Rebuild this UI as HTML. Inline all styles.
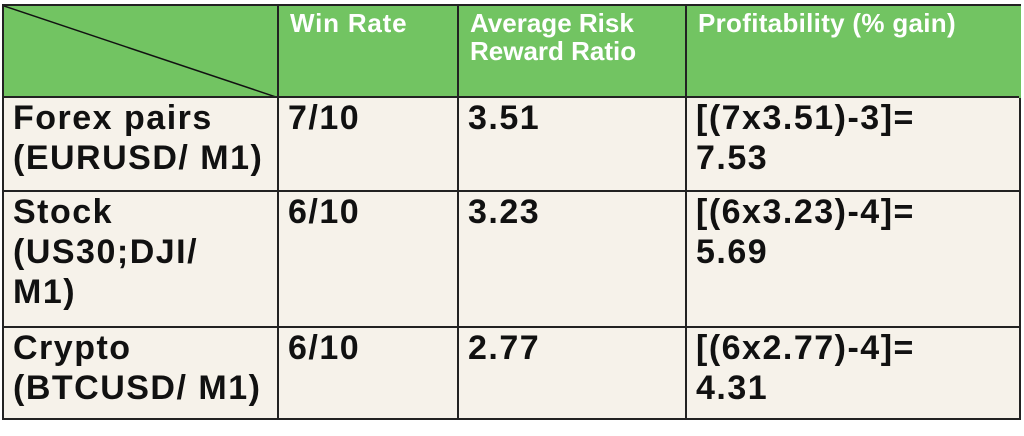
<!DOCTYPE html>
<html><head><meta charset="utf-8"><style>
html,body{margin:0;padding:0;background:#fff;width:1024px;height:436px;overflow:hidden}
#tbl{position:absolute;left:2px;top:4px;width:1019px;height:416px;background:#f6f2ea;border:2px solid #222;box-sizing:border-box}
.cell{position:absolute;box-sizing:border-box;font-family:"Liberation Sans",sans-serif;font-weight:bold}
.hdr{background:#72c462;color:#fff;font-size:26px;line-height:28px;letter-spacing:0.8px;padding:3px 0 0 11px;top:0;height:92px}
.bd{color:#111;font-size:34px;line-height:40px;letter-spacing:1.5px;padding:0 0 0 9px}
.vl{position:absolute;top:0;bottom:0;width:2px;background:#222}
.hl{position:absolute;left:0;right:0;height:2px;background:#222}
</style></head><body>
<div id="tbl">
<div class="cell hdr" style="left:0;width:275px">
<svg width="275" height="92" style="position:absolute;left:0;top:0"><line x1="0" y1="0" x2="275" y2="92" stroke="#111" stroke-width="1.5"/></svg></div>
<div class="cell hdr" style="left:275px;width:180px">Win Rate</div>
<div class="cell hdr" style="left:455px;width:228px;letter-spacing:0">Average Risk Reward Ratio</div>
<div class="cell hdr" style="left:683px;width:334px;letter-spacing:0.3px">Profitability (% gain)</div>

<div class="cell bd" style="left:0;top:92px;width:275px">Forex pairs<br>(EURUSD/ M1)</div>
<div class="cell bd" style="left:275px;top:92px">7/10</div>
<div class="cell bd" style="left:455px;top:92px">3.51</div>
<div class="cell bd" style="left:683px;top:92px">[(7x3.51)-3]=<br>7.53</div>

<div class="cell bd" style="left:0;top:186px;width:275px">Stock<br>(US30;DJI/<br>M1)</div>
<div class="cell bd" style="left:275px;top:186px">6/10</div>
<div class="cell bd" style="left:455px;top:186px">3.23</div>
<div class="cell bd" style="left:683px;top:186px">[(6x3.23)-4]=<br>5.69</div>

<div class="cell bd" style="left:0;top:322px;width:275px">Crypto<br>(BTCUSD/ M1)</div>
<div class="cell bd" style="left:275px;top:322px">6/10</div>
<div class="cell bd" style="left:455px;top:322px">2.77</div>
<div class="cell bd" style="left:683px;top:322px">[(6x2.77)-4]=<br>4.31</div>

<div class="vl" style="left:273px"></div>
<div class="vl" style="left:453px"></div>
<div class="vl" style="left:681px"></div>
<div class="hl" style="top:90px"></div>
<div class="hl" style="top:184px"></div>
<div class="hl" style="top:320px"></div>
</div>
</body></html>
